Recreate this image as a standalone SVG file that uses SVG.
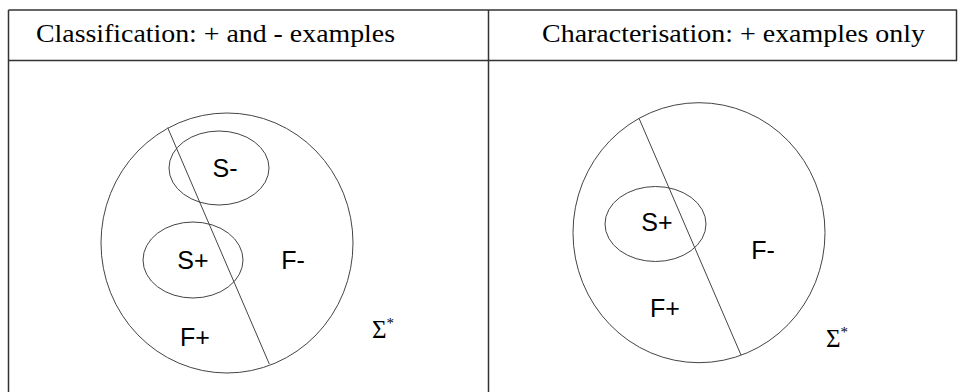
<svg xmlns="http://www.w3.org/2000/svg" width="960" height="392" viewBox="0 0 960 392">
<style>
.tbl{stroke:#333;stroke-width:1.5;fill:none}
.sh{fill:none;stroke:#444;stroke-width:1}
.hd{font-family:"Liberation Serif",serif;font-size:26px;fill:#000}
.lb{font-family:"Liberation Sans",Arial,sans-serif;font-size:25px;fill:#000;text-anchor:middle;dominant-baseline:central}
.sg{font-family:"Liberation Serif",serif;font-size:25px;fill:#000}
.st{font-size:15px}
</style>
<rect width="960" height="392" fill="#fff"/>
<g id="table">
<line class="tbl" x1="8.5" y1="10" x2="957" y2="10"/>
<line class="tbl" x1="8.5" y1="60.5" x2="957" y2="60.5"/>
<line class="tbl" x1="8.5" y1="10" x2="8.5" y2="392"/>
<line class="tbl" x1="488.5" y1="10" x2="488.5" y2="392"/>
<line class="tbl" x1="956.5" y1="10" x2="956.5" y2="61"/>
</g>
<g id="header-left"><text class="hd" x="36" y="42" textLength="359" lengthAdjust="spacingAndGlyphs">Classification: + and - examples</text></g>
<g id="header-right"><text class="hd" x="542" y="42" textLength="383" lengthAdjust="spacingAndGlyphs">Characterisation: + examples only</text></g>
<g id="left-panel">
<ellipse class="sh" cx="227" cy="243" rx="126" ry="130"/>
<ellipse class="sh" cx="219" cy="168" rx="50" ry="37"/>
<ellipse class="sh" cx="193" cy="260" rx="50" ry="38"/>
<line class="sh" x1="167.7" y1="127.7" x2="269.3" y2="364"/>
<text class="lb" x="225" y="168">S-</text>
<text class="lb" x="193" y="260">S+</text>
<text class="lb" x="293" y="260">F-</text>
<text class="lb" x="195" y="337">F+</text>
<text class="sg" x="372" y="338">Σ<tspan class="st" dy="-10">*</tspan></text>
</g>
<g id="right-panel">
<ellipse class="sh" cx="699" cy="232.7" rx="126" ry="130"/>
<ellipse class="sh" cx="655.5" cy="224" rx="50.5" ry="37.5"/>
<line class="sh" x1="639" y1="118.3" x2="741" y2="355"/>
<text class="lb" x="657" y="222">S+</text>
<text class="lb" x="763" y="250">F-</text>
<text class="lb" x="665" y="308">F+</text>
<text class="sg" x="826" y="347">Σ<tspan class="st" dy="-10">*</tspan></text>
</g>
</svg>
